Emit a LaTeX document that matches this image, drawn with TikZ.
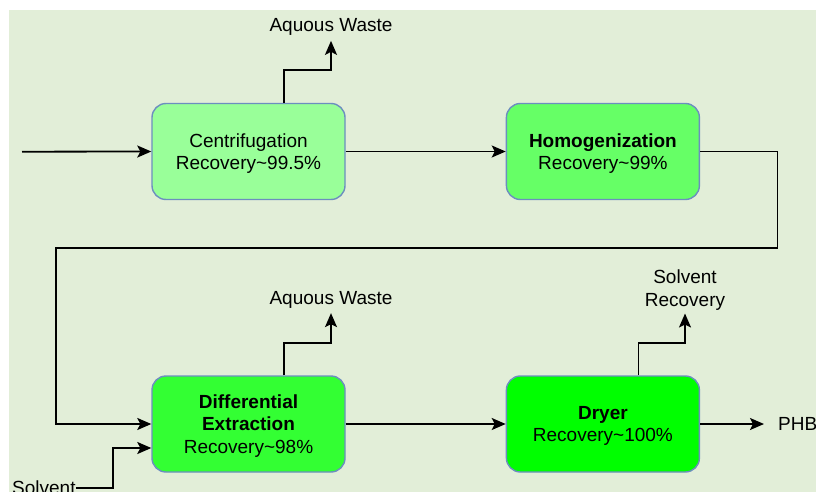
\documentclass[tikz,border=0pt]{standalone}
\usepackage{fontspec}
\setmainfont{Liberation Sans}
\usetikzlibrary{positioning,arrows.meta}

\definecolor{sheet}{HTML}{E2EED8}
\definecolor{frame}{HTML}{6C8EBF}
\definecolor{limeA}{HTML}{99FF99}
\definecolor{limeB}{HTML}{66FF66}
\definecolor{limeC}{HTML}{33FF33}
\definecolor{limeD}{HTML}{00FF00}

\begin{document}
\begin{tikzpicture}[x=1pt, y=-1pt,
    font=\fontsize{19}{22.5}\selectfont,
    unit/.style={draw=frame, line width=1.4pt, rounded corners=14pt,
        minimum width=193pt, minimum height=96pt, align=center, inner sep=2pt,
        text depth=-1.5pt},
    flow/.style={line width=1.8pt, -{Stealth[length=14pt,width=12pt,inset=3pt]}},
    tag/.style={inner sep=0pt, align=center}]
    \useasboundingbox (0,0) rectangle (816,492);
    \clip (0,0) rectangle (816,492);
    \fill[white] (0,0) rectangle (816,492);
    \fill[sheet] (9,10) rectangle (816,492);

    % process units
    \node[unit, fill=limeA] (centri) at (248.5,151.5) {Centrifugation\\Recovery\textasciitilde99.5\%};
    \node[unit, fill=limeB, right=160pt of centri] (homog) {\textbf{Homogenization}\\Recovery\textasciitilde99\%};
    \node[unit, fill=limeC] (extract) at (248.5,424) {\textbf{Differential}\\\textbf{Extraction}\\Recovery\textasciitilde98\%};
    \node[unit, fill=limeD, right=160pt of extract] (dryer) {\textbf{Dryer}\\Recovery\textasciitilde100\%};

    % streams in and out
    \node[tag, anchor=base] (wasteA) at (331,31.7) {Aquous Waste};
    \node[tag, anchor=base] (wasteB) at (331,304) {Aquous Waste};
    \node[tag, anchor=south] (solvrec) at (685,310.5) {Solvent\\Recovery};
    \node[tag, anchor=base west] (solvent) at (12,494.5) {Solvent};
    \node[tag, anchor=west] (phb) at (778,424) {PHB};
    \coordinate (feed) at (22,151.7);
    \coordinate (bendR) at (777.5,247.7);
    \coordinate (bendL) at (56,247.7);

    \draw[flow] (feed) -- (centri.west);
    \draw[flow] (centri) -- (homog);
    \draw[flow] (homog.east) -| (bendR) -- (bendL) |- (extract.west);
    \draw[flow] (extract) -- (dryer);
    \draw[flow, shorten >=14pt] (dryer.east) -- (phb.west);
    \draw[flow] ([xshift=35.5pt]centri.north) -- ++(0,-33) -| ([yshift=-5pt]wasteA.south);
    \draw[flow] ([xshift=35.5pt]extract.north) -- ++(0,-32) -| ([yshift=-5pt]wasteB.south);
    \draw[flow] ([xshift=35.5pt]dryer.north) -- ++(0,-32) -| ([yshift=-3pt]solvrec.south);
    \draw[flow] (solvent.east) -| ([xshift=-38pt,yshift=-24pt]extract.west) -- ([yshift=-24pt]extract.west);
\end{tikzpicture}
\end{document}
